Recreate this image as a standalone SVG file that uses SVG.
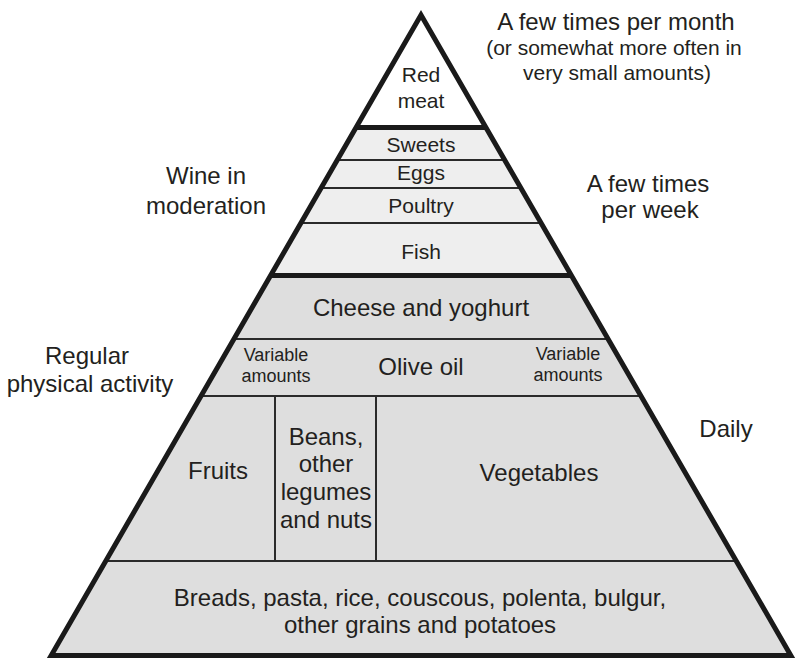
<svg xmlns="http://www.w3.org/2000/svg" width="796" height="659" viewBox="0 0 796 659">
<style>
.t{font-family:"Liberation Sans",Arial,Helvetica,sans-serif;fill:#231f20;text-anchor:middle}
.m{font-size:24px}
.s{font-size:21px}
.v{font-size:18px}
.thin{stroke:#2a2a2a;stroke-width:2;fill:none}
.thick{stroke:#1a1a1a;stroke-width:5;fill:none}
.light{fill:#eeeeee}
.dark{fill:#dedede}
</style>
<defs>
<clipPath id="tri"><polygon points="421,15 51.2,655.5 790.8,655.5"/></clipPath>
</defs>
<rect width="796" height="659" fill="#ffffff"/>
<g clip-path="url(#tri)">
<g id="red-meat">
<rect x="0" y="0" width="796" height="127" fill="#ffffff"/>
</g>
<g id="sweets"><rect class="light" x="0" y="127" width="796" height="33"/></g>
<g id="eggs"><rect class="light" x="0" y="160" width="796" height="28"/></g>
<g id="poultry"><rect class="light" x="0" y="188" width="796" height="35"/></g>
<g id="fish"><rect class="light" x="0" y="223" width="796" height="52"/></g>
<g id="cheese"><rect class="dark" x="0" y="275" width="796" height="64"/></g>
<g id="olive-oil"><rect class="dark" x="0" y="339" width="796" height="57"/></g>
<g id="fruits"><rect class="dark" x="0" y="396" width="275" height="165"/></g>
<g id="beans"><rect class="dark" x="275" y="396" width="101" height="165"/></g>
<g id="vegetables"><rect class="dark" x="376" y="396" width="420" height="165"/></g>
<g id="breads"><rect class="dark" x="0" y="561" width="796" height="98"/></g>
<g id="separators">
<line class="thick" x1="0" y1="127.5" x2="796" y2="127.5"/>
<line class="thin" x1="0" y1="160" x2="796" y2="160"/>
<line class="thin" x1="0" y1="188" x2="796" y2="188"/>
<line class="thin" x1="0" y1="223" x2="796" y2="223"/>
<line class="thick" x1="0" y1="275.5" x2="796" y2="275.5"/>
<line class="thin" x1="0" y1="339" x2="796" y2="339"/>
<line class="thin" x1="0" y1="396" x2="796" y2="396"/>
<line class="thin" x1="275" y1="396" x2="275" y2="561"/>
<line class="thin" x1="376" y1="396" x2="376" y2="561"/>
<line class="thin" x1="0" y1="561" x2="796" y2="561"/>
</g>
</g>
<polygon id="outline" points="421,15 51.2,655.5 790.8,655.5" fill="none" stroke="#1a1a1a" stroke-width="5" stroke-linejoin="miter" stroke-miterlimit="10"/>
<g id="labels-inside">
<text class="t s" x="421" y="82">Red</text>
<text class="t s" x="421" y="108">meat</text>
<text class="t s" x="421" y="152">Sweets</text>
<text class="t s" x="421" y="180">Eggs</text>
<text class="t s" x="421" y="213">Poultry</text>
<text class="t s" x="421" y="259">Fish</text>
<text class="t m" x="421" y="316">Cheese and yoghurt</text>
<text class="t v" x="276" y="361">Variable</text>
<text class="t v" x="276" y="382">amounts</text>
<text class="t m" x="421" y="375">Olive oil</text>
<text class="t v" x="568" y="360">Variable</text>
<text class="t v" x="568" y="381">amounts</text>
<text class="t m" x="218" y="479">Fruits</text>
<text class="t m" x="326" y="445">Beans,</text>
<text class="t m" x="326" y="472">other</text>
<text class="t m" x="326" y="500">legumes</text>
<text class="t m" x="326" y="528">and nuts</text>
<text class="t m" x="539" y="481">Vegetables</text>
<text class="t m" x="420" y="606">Breads, pasta, rice, couscous, polenta, bulgur,</text>
<text class="t m" x="420" y="633">other grains and potatoes</text>
</g>
<g id="labels-outside">
<text class="t m" x="616" y="30">A few times per month</text>
<text class="t s" x="614" y="55">(or somewhat more often in</text>
<text class="t s" x="617" y="80">very small amounts)</text>
<text class="t m" x="206" y="184">Wine in</text>
<text class="t m" x="206" y="214">moderation</text>
<text class="t m" x="648" y="192">A few times</text>
<text class="t m" x="650" y="218">per week</text>
<text class="t m" x="87" y="364">Regular</text>
<text class="t m" x="90" y="392">physical activity</text>
<text class="t m" x="726" y="437">Daily</text>
</g>
</svg>
